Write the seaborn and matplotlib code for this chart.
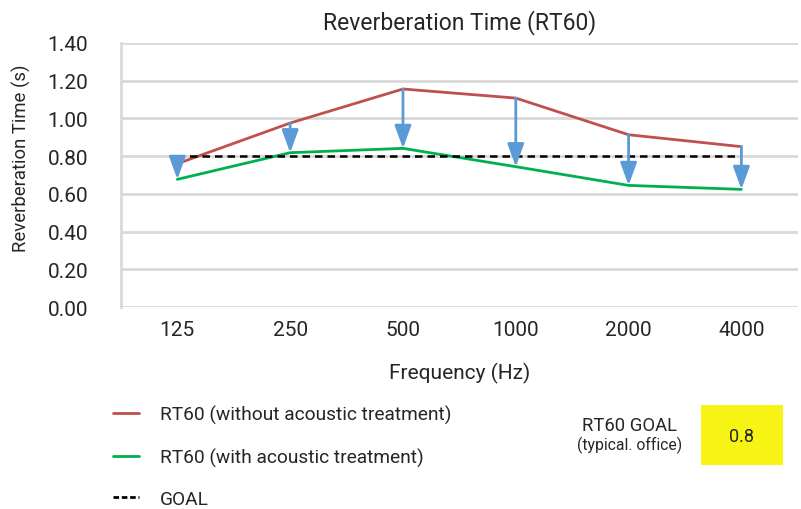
import numpy as np
import pandas as pd
import matplotlib
matplotlib.use("Agg")
import matplotlib.pyplot as plt
import seaborn as sns
from matplotlib.lines import Line2D
from matplotlib.patches import Rectangle

# data
frequencies = ["125", "250", "500", "1000", "2000", "4000"]
rt60_without = [0.76, 0.975, 1.155, 1.107, 0.913, 0.85]
rt60_with = [0.677, 0.818, 0.841, 0.744, 0.645, 0.624]
goal_value = 0.8
goal = [goal_value] * len(frequencies)
y_ticks = [0.0, 0.2, 0.4, 0.6, 0.8, 1.0, 1.2, 1.4]

red = "#c0504d"
green = "#00b050"
blue = "#5b9bd5"
text_col = "#262626"

sns.set_theme(style="white")
plt.rcParams["font.family"] = ["Roboto", "DejaVu Sans"]

df = pd.DataFrame({
    "freq": frequencies,
    "without": rt60_without,
    "with": rt60_with,
    "goal": goal,
})

fig = plt.figure(figsize=(8.01, 5.10), dpi=100)
ax = fig.add_axes([0.151, 0.3955, 0.845, 0.5188])

sns.lineplot(data=df, x="freq", y="without", color=red, lw=2, sort=False, ax=ax)
sns.lineplot(data=df, x="freq", y="with", color=green, lw=2, sort=False, ax=ax)
sns.lineplot(data=df, x="freq", y="goal", color="black", lw=1.8,
             linestyle=(0, (3, 2)), sort=False, ax=ax)

# arrows from untreated to treated value
for i, (r, g) in enumerate(zip(rt60_without, rt60_with)):
    ax.annotate("", xy=(i, g), xytext=(i, r),
                arrowprops=dict(arrowstyle="-|>,head_width=0.42,head_length=1.15",
                                color=blue, lw=2, mutation_scale=12,
                                shrinkA=0, shrinkB=0))

ax.set_xlim(-0.5, len(frequencies) - 0.5)
ax.set_ylim(0, 1.4)
ax.set_yticks(y_ticks)
ax.set_yticklabels([f"{v:.2f}" for v in y_ticks])
ax.yaxis.grid(True, color="#d9d9d9", lw=2)
ax.set_axisbelow(True)
for s in ["top", "right", "bottom"]:
    ax.spines[s].set_visible(False)
ax.spines["left"].set_color("#d9d9d9")
ax.spines["left"].set_linewidth(2)
ax.tick_params(axis="both", length=0, labelsize=15, labelcolor=text_col)
ax.tick_params(axis="x", pad=9)
ax.tick_params(axis="y", pad=23.5)

ax.set_title("Reverberation Time (RT60)", fontsize=16.5, color=text_col, pad=10.5)
ax.set_xlabel("Frequency (Hz)", fontsize=15, color=text_col, labelpad=17)
ax.set_ylabel("Reverberation Time (s)", fontsize=13.3, color=text_col)
ax.yaxis.set_label_coords(-0.133, 0.568)

handles = [
    Line2D([], [], color=red, lw=2),
    Line2D([], [], color=green, lw=2),
    Line2D([], [], color="black", lw=2, linestyle=(0, (2, 1))),
]
labels = ["RT60 (without acoustic treatment)", "RT60 (with acoustic treatment)", "GOAL"]
fig.legend(handles, labels, loc="upper left", bbox_to_anchor=(0.119, 1 - 389 / 510),
           frameon=False, fontsize=13.8, handlelength=1.4, handletextpad=1.05,
           labelspacing=1.2, labelcolor=text_col)

fig.text(630 / 801, 1 - 426 / 510, "RT60 GOAL", ha="center", va="center",
         fontsize=13.3, color=text_col)
fig.text(630 / 801, 1 - 445 / 510, "(typical. office)", ha="center", va="center",
         fontsize=11.3, color=text_col)
fig.patches.append(Rectangle((701 / 801, 1 - 466 / 510), 82 / 801, 60 / 510,
                             transform=fig.transFigure, facecolor="#f7f314",
                             edgecolor="none"))
fig.text(742 / 801, 1 - 437 / 510, f"{goal_value}", ha="center", va="center",
         fontsize=13, color=text_col)

fig.savefig("out.png", dpi=100)
